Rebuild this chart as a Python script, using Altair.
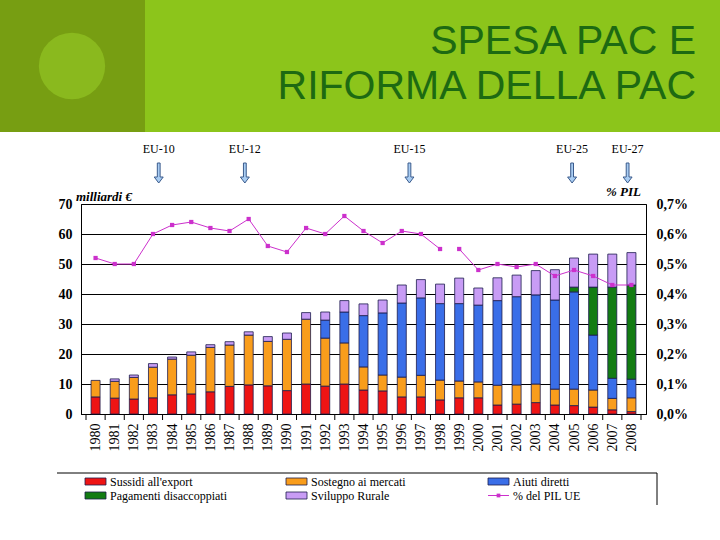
import altair as alt
import pandas as pd

# ---------------- data ----------------
anni = list(range(1980, 2009))
sussidi_export = [5.7, 5.3, 5.0, 5.4, 6.4, 6.7, 7.4, 9.2, 9.7, 9.4, 7.8, 10.0, 9.3, 10.0, 8.0,
                  7.7, 5.7, 5.7, 4.7, 5.4, 5.4, 3.0, 3.3, 3.8, 3.0, 2.8, 2.3, 1.4, 0.8]
sostegno_mercati = [5.5, 5.6, 7.2, 10.2, 11.9, 12.9, 14.8, 13.8, 16.6, 14.8, 17.1, 21.6, 16.0, 13.7, 7.7,
                    5.3, 6.6, 7.2, 6.6, 5.6, 5.3, 6.6, 6.4, 6.2, 5.3, 5.5, 5.7, 3.8, 4.6]
aiuti_diretti = [0, 0, 0, 0, 0, 0, 0, 0, 0, 0, 0, 0, 6.0, 10.3, 17.1,
                 20.7, 24.7, 25.8, 25.5, 25.8, 25.6, 28.2, 29.4, 29.7, 29.7, 32.4, 18.3, 6.7, 6.2]
pagamenti_disaccoppiati = [0, 0, 0, 0, 0, 0, 0, 0, 0, 0, 0, 0, 0, 0, 0,
                           0, 0, 0, 0, 0, 0, 0, 0, 0, 0, 1.6, 16.0, 30.4, 31.4]
sviluppo_rurale = [0.0, 0.8, 0.8, 1.2, 0.7, 1.1, 0.9, 1.1, 1.1, 1.6, 2.1, 2.2, 2.7, 3.8, 3.9,
                   4.3, 6.0, 6.1, 6.5, 8.5, 5.7, 7.6, 7.2, 8.1, 10.1, 9.7, 11.0, 11.0, 10.8]
pil_pct = [0.52, 0.50, 0.50, 0.60, 0.63, 0.64, 0.62, 0.61, 0.65, 0.56, 0.54, 0.62, 0.60, 0.66, 0.61,
           0.57, 0.61, 0.60, 0.55, 0.55, 0.48, 0.50, 0.49, 0.50, 0.46, 0.48, 0.46, 0.43, 0.43]
tratto_linea = [1] * 19 + [2] * 10

serie_nomi = ["Sussidi all'export", "Sostegno ai mercati", "Aiuti diretti",
              "Pagamenti disaccoppiati", "Sviluppo Rurale"]
serie_colori = ["#ee1414", "#f99d1c", "#3a6ee8", "#137c13", "#c89cf5"]
nome_linea = "% del PIL UE"
colore_linea = "#cc30cc"

eu_etichette = ["EU-10", "EU-12", "EU-15", "EU-25", "EU-27"]
eu_anni = [1983.3, 1987.8, 1996.4, 2004.9, 2007.8]

titolo_righe = ["SPESA PAC E", "RIFORMA DELLA PAC"]
y_ticks = [0, 10, 20, 30, 40, 50, 60, 70]
pct_ticks = [0.0, 0.1, 0.2, 0.3, 0.4, 0.5, 0.6, 0.7]

# ---------------- layout ----------------
W, H = 565, 210
PL, PT = 81, 204
SERIF = "Liberation Serif"

serie_valori = [sussidi_export, sostegno_mercati, aiuti_diretti, pagamenti_disaccoppiati, sviluppo_rurale]
rows = []
for k, (nome, vals) in enumerate(zip(serie_nomi, serie_valori)):
    for a, v in zip(anni, vals):
        if v > 0:
            rows.append({"anno": a, "serie": nome, "valore": v, "ordine": k})
df_bar = pd.DataFrame(rows)
df_line = pd.DataFrame({"anno": anni, "pil": pil_pct, "tratto": tratto_linea})
df_bound = pd.DataFrame({"b": [a - 0.5 for a in anni] + [anni[-1] + 0.5]})
df_eu = pd.DataFrame({"anno": eu_anni, "etichetta": eu_etichette})
one = pd.DataFrame({"d": [0]})

xscale = alt.Scale(domain=[anni[0] - 0.5, anni[-1] + 0.5], nice=False, zero=False)
color_scale = alt.Scale(domain=serie_nomi, range=serie_colori)

xaxis = alt.Axis(values=anni, format="d", labelAngle=270, ticks=False, grid=False,
                 domainColor="black", domainWidth=1, labelOverlap=False,
                 labelAlign="right", labelBaseline="middle",
                 labelFont=SERIF, labelFontSize=14, labelColor="black", labelPadding=9, title=None)
yaxis = alt.Axis(values=y_ticks, ticks=False, grid=True, gridColor="black", gridWidth=1,
                 domainColor="black", labelFont=SERIF, labelFontSize=14, labelFontWeight="bold",
                 labelColor="black", labelPadding=9, title=None)
raxis = alt.Axis(orient="right", values=pct_ticks, ticks=False, grid=False, domain=False,
                 labelExpr="replace(format(datum.value, '.1f'), '.', ',') + '%'",
                 labelFont=SERIF, labelFontSize=14, labelFontWeight="bold", labelColor="black",
                 labelPadding=10, title=None)

layers = []

# banner
layers.append(alt.Chart(one).mark_rect(color="#8cc51b").encode(
    x=alt.value(-PL), x2=alt.value(720 - PL), y=alt.value(-PT), y2=alt.value(132 - PT)))
layers.append(alt.Chart(one).mark_rect(color="#779e12").encode(
    x=alt.value(-PL), x2=alt.value(145 - PL), y=alt.value(-PT), y2=alt.value(132 - PT)))
layers.append(alt.Chart(one).mark_circle(color="#8ab91e", opacity=1, size=4400).encode(
    x=alt.value(72 - PL), y=alt.value(66 - PT)))
for testo, base in zip(titolo_righe, [54, 99]):
    layers.append(alt.Chart(one).mark_text(text=testo, font="Liberation Sans", fontSize=41,
                                           color="#1d6a12", align="right", baseline="alphabetic").encode(
        x=alt.value(696 - PL), y=alt.value(base - PT)))

# bars
layers.append(alt.Chart(df_bar).mark_bar(width=9, stroke="#1c1c4c", strokeWidth=0.8).encode(
    x=alt.X("anno:Q", scale=xscale, axis=xaxis),
    y=alt.Y("valore:Q", stack="zero", scale=alt.Scale(domain=[0, 70], nice=False), axis=yaxis),
    color=alt.Color("serie:N", scale=color_scale, legend=None),
    order=alt.Order("ordine:Q"),
))

# x ticks at category boundaries
layers.append(alt.Chart(df_bound).mark_rule(color="black", strokeWidth=1).encode(
    x=alt.X("b:Q", scale=xscale, axis=xaxis), y=alt.value(H), y2=alt.value(H + 6)))

# % PIL line
layers.append(alt.Chart(df_line).mark_line(
    color=colore_linea, strokeWidth=1,
    point=alt.OverlayMarkDef(shape="square", size=18, filled=True, color=colore_linea)).encode(
    x=alt.X("anno:Q", scale=xscale, axis=xaxis),
    y=alt.Y("pil:Q", scale=alt.Scale(domain=[0, 0.7], nice=False), axis=raxis),
    detail="tratto:N",
))

# enlargements annotations
arrow_path = "M-0.14,-1 L0.14,-1 L0.14,0.4 L0.45,0.4 L0,1 L-0.45,0.4 L-0.14,0.4 Z"
layers.append(alt.Chart(df_eu).mark_text(font=SERIF, fontSize=12, color="black", baseline="middle").encode(
    x=alt.X("anno:Q", scale=xscale, axis=xaxis), y=alt.value(149 - PT), text="etichetta:N"))
layers.append(alt.Chart(df_eu).mark_point(shape=arrow_path, size=400, filled=True, fill="#a9cdf3",
                                          stroke="#3b5b8c", strokeWidth=1, opacity=1).encode(
    x=alt.X("anno:Q", scale=xscale, axis=xaxis), y=alt.value(173 - PT)))

# axis titles
layers.append(alt.Chart(one).mark_text(text="milliardi €", font=SERIF, fontSize=13, fontStyle="italic",
                                       fontWeight="bold", align="left", baseline="alphabetic",
                                       color="black").encode(x=alt.value(-5), y=alt.value(-3)))
layers.append(alt.Chart(one).mark_text(text="% PIL", font=SERIF, fontSize=13, fontStyle="italic",
                                       fontWeight="bold", align="right", baseline="alphabetic",
                                       color="black").encode(x=alt.value(641 - PL), y=alt.value(196 - PT)))

# legend (drawn below the chart)
col_x = [85, 286, 488]
row_y = [481.5, 495.5]
for i, (nome, col) in enumerate(zip(serie_nomi, serie_colori)):
    cx, ry = col_x[i % 3], row_y[i // 3]
    layers.append(alt.Chart(one).mark_rect(color=col, stroke="#1c1c4c", strokeWidth=0.8).encode(
        x=alt.value(cx - PL), x2=alt.value(cx + 21 - PL),
        y=alt.value(ry - 3.5 - PT), y2=alt.value(ry + 3.5 - PT)))
    layers.append(alt.Chart(one).mark_text(text=nome, font=SERIF, fontSize=12, align="left",
                                           baseline="middle", color="black").encode(
        x=alt.value(cx + 25 - PL), y=alt.value(ry - PT)))
cx, ry = col_x[2], row_y[1]
layers.append(alt.Chart(one).mark_rule(color=colore_linea, strokeWidth=1).encode(
    x=alt.value(cx - PL), x2=alt.value(cx + 21 - PL), y=alt.value(ry - PT)))
layers.append(alt.Chart(one).mark_point(shape="square", size=14, filled=True, color=colore_linea,
                                        opacity=1).encode(x=alt.value(cx + 10.5 - PL), y=alt.value(ry - PT)))
layers.append(alt.Chart(one).mark_text(text=nome_linea, font=SERIF, fontSize=12, align="left",
                                       baseline="middle", color="black").encode(
    x=alt.value(cx + 25 - PL), y=alt.value(ry - PT)))
layers.append(alt.Chart(one).mark_rule(color="black", strokeWidth=1).encode(
    x=alt.value(57 - PL), x2=alt.value(657 - PL), y=alt.value(473 - PT)))
layers.append(alt.Chart(one).mark_rule(color="black", strokeWidth=1).encode(
    x=alt.value(657 - PL), y=alt.value(473 - PT), y2=alt.value(505 - PT)))

chart = alt.layer(*layers).resolve_scale(y="independent").properties(
    width=W, height=H,
    autosize=alt.AutoSizeParams(type="none"),
    padding={"left": PL, "top": PT, "right": 720 - PL - W, "bottom": 540 - PT - H},
    background="white",
).configure_view(stroke="black", strokeWidth=1)

chart.save("out.html", embed_options={"renderer": "svg", "actions": False})
